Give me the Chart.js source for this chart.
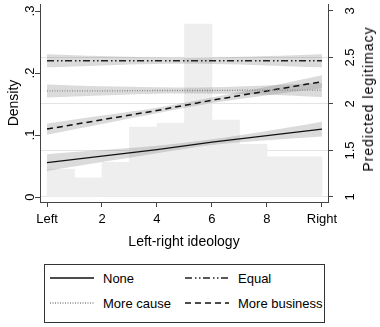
<!DOCTYPE html>
<html><head><meta charset="utf-8">
<script src="https://cdn.jsdelivr.net/npm/chart.js@4.4.0/dist/chart.umd.min.js"></script>
<style>
html,body{margin:0;padding:0;background:#fff;}
#wrap{position:relative;width:380px;height:327px;font-family:"Liberation Sans",Arial,sans-serif;color:#000;overflow:hidden;}
#cv{position:absolute;left:0;top:0;}
#rtitle{position:absolute;left:368px;top:99px;transform:translate(-50%,-50%) rotate(-90deg);white-space:nowrap;font-size:14px;line-height:16px;letter-spacing:1px;}
#legend{position:absolute;left:44px;top:264px;width:279px;height:57px;border:1px solid #333;}
.item{position:absolute;font-size:13px;line-height:15px;white-space:nowrap;transform:translateY(-50%);}
.smp{position:absolute;transform:translateY(-50%);}
</style></head><body>
<div id="wrap">
<canvas id="cv" width="380" height="258"></canvas>
<div id="rtitle">Predicted legitimacy</div>
<div id="legend"></div>
</div>
<script>
// ---- data ----
const seriesNames = ['None', 'Equal', 'More cause', 'More business'];
const xTicks = [0, 2, 4, 6, 8, 10];
const xTickLabels = ['Left', '2', '4', '6', '8', 'Right'];
const densityTicks = [0, 0.1, 0.2, 0.3];
const densityTickLabels = ['0', '.1', '.2', '.3'];
const legitTicks = [1, 1.5, 2, 2.5, 3];
const legitTickLabels = ['1', '1.5', '2', '2.5', '3'];

const binMid = [0.5, 1.5, 2.5, 3.5, 4.5, 5.5, 6.5, 7.5, 8.5, 9.5];
const density = [0.045, 0.031, 0.056, 0.113, 0.119, 0.279, 0.124, 0.085, 0.065, 0.065];

const fitX = [0, 2, 4, 6, 8, 10];
const noneFit = [1.37, 1.44, 1.51, 1.59, 1.66, 1.73];
const noneHi  = [1.46, 1.505, 1.55, 1.62, 1.71, 1.81];
const noneLo  = [1.28, 1.375, 1.47, 1.56, 1.61, 1.65];
const equalFit = [2.465, 2.465, 2.465, 2.465, 2.465, 2.465];
const equalHi  = [2.535, 2.515, 2.50, 2.50, 2.515, 2.535];
const equalLo  = [2.395, 2.415, 2.43, 2.43, 2.415, 2.395];
const causeFit = [2.14, 2.14, 2.145, 2.145, 2.15, 2.15];
const causeHi  = [2.21, 2.19, 2.18, 2.18, 2.20, 2.225];
const causeLo  = [2.07, 2.09, 2.11, 2.11, 2.10, 2.075];
const busFit = [1.73, 1.83, 1.93, 2.04, 2.14, 2.24];
const busHi  = [1.79, 1.875, 1.96, 2.07, 2.185, 2.31];
const busLo  = [1.67, 1.785, 1.90, 2.01, 2.095, 2.17];

// ---- styles ----
const FONT = '"Liberation Sans", Arial, sans-serif';
Chart.defaults.font.family = FONT;
Chart.defaults.color = '#000';
const AXIS = '#444';
const BAND = 'rgba(110,110,110,0.25)';
const lineStyles = [
  {color:'#111', width:1.3, dash:[]},
  {color:'#222', width:1.5, dash:[7,3,1.5,2.5,1.5,2.5]},
  {color:'#888', width:1.3, dash:[1,1.5]},
  {color:'#111', width:1.5, dash:[6,4]}
];
const fits = [noneFit, equalFit, causeFit, busFit];
const his = [noneHi, equalHi, causeHi, busHi];
const los = [noneLo, equalLo, causeLo, busLo];

const xy = (xs, ys) => xs.map((x, i) => ({x: x, y: ys[i]}));

const datasets = [];
fits.forEach((f, i) => {
  const st = lineStyles[i];
  datasets.push({type:'line', label: seriesNames[i], data: xy(fitX, f), yAxisID:'y2',
    borderColor: st.color, borderWidth: st.width, borderDash: st.dash, pointRadius:0, fill:false, order:0});
});
fits.forEach((f, i) => {
  datasets.push({type:'line', label: seriesNames[i] + ' CI low', data: xy(fitX, los[i]), yAxisID:'y2',
    borderWidth:0, borderColor:'rgba(0,0,0,0)', pointRadius:0, fill:false, tension:0.35, order:5});
  datasets.push({type:'line', label: seriesNames[i] + ' CI high', data: xy(fitX, his[i]), yAxisID:'y2',
    borderWidth:0, borderColor:'rgba(0,0,0,0)', pointRadius:0, fill:'-1', backgroundColor: BAND, tension:0.35, order:5});
});
datasets.push({type:'bar', label:'Density', data: xy(binMid, density), yAxisID:'y',
  backgroundColor:'#eeeeee', borderWidth:0, barPercentage:1, categoryPercentage:1, grouped:false, order:10});

const noPad = s => { s.paddingTop = 0; s.paddingBottom = 0; s.paddingLeft = 0; s.paddingRight = 0; };

new Chart(document.getElementById('cv'), {
  data: {datasets: datasets},
  options: {
    responsive:false, animation:false,
    layout:{padding:{top:4, left:0, right:0, bottom:0}},
    plugins:{legend:{display:false}, tooltip:{enabled:false}},
    scales:{
      x:{type:'linear', position:'bottom', min:-0.255, max:10.22, offset:false,
        afterBuildTicks: s => { s.ticks = xTicks.map(v => ({value:v})); },
        ticks:{callback: v => xTickLabels[xTicks.indexOf(v)], font:{size:13}, color:'#000', padding:5, maxRotation:0, autoSkip:false},
        grid:{drawOnChartArea:false, offset:false, tickLength:5, tickColor:AXIS, color:AXIS},
        border:{color:AXIS, width:1},
        title:{display:true, text:'Left-right ideology', font:{size:14}, color:'#000', padding:{top:0, bottom:7}},
        afterFit: s => { s.height = 56; noPad(s); }
      },
      y:{type:'linear', position:'left', min:-0.008, max:0.3113,
        afterBuildTicks: s => { s.ticks = densityTicks.map(v => ({value:v})); },
        ticks:{callback: v => densityTickLabels[densityTicks.indexOf(v)], font:{size:13}, color:'#000',
          minRotation:90, maxRotation:90, crossAlign:'center', padding:-1, autoSkip:false},
        grid:{drawOnChartArea:false, tickLength:5, tickColor:AXIS, color:AXIS},
        border:{color:AXIS, width:1},
        title:{display:true, text:'Density', font:{size:14}, color:'#000', padding:{top:6, bottom:0}},
        afterFit: s => { s.width = 40; noPad(s); }
      },
      y2:{type:'linear', position:'right', min:0.946, max:3.075,
        afterBuildTicks: s => { s.ticks = legitTicks.map(v => ({value:v})); },
        ticks:{callback: v => legitTickLabels[legitTicks.indexOf(v)], font:{size:13}, color:'#000',
          minRotation:90, maxRotation:90, crossAlign:'center', padding:8, autoSkip:false},
        grid:{drawOnChartArea:true, drawTicks:true, tickLength:5, tickColor:AXIS,
          color: c => (c.tick && c.tick.value < 2.9) ? '#e4e4e4' : 'rgba(0,0,0,0)', lineWidth:1},
        border:{color:AXIS, width:1},
        afterFit: s => { s.width = 52; noPad(s); }
      }
    }
  }
});

// ---- legend (HTML text) ----
const legendPos = [
  {col:0, row:0}, {col:1, row:0}, {col:0, row:1}, {col:1, row:1}
];
const colX = [{s:5, t:58}, {s:140, t:193}];
const rowY = [13, 38];
const lg = document.getElementById('legend');
seriesNames.forEach((name, i) => {
  const p = legendPos[i], st = lineStyles[i];
  const svgNS = 'http://www.w3.org/2000/svg';
  const svg = document.createElementNS(svgNS, 'svg');
  svg.setAttribute('width', '44'); svg.setAttribute('height', '4');
  svg.setAttribute('class', 'smp');
  svg.style.left = colX[p.col].s + 'px'; svg.style.top = rowY[p.row] + 'px';
  const ln = document.createElementNS(svgNS, 'line');
  ln.setAttribute('x1', '0'); ln.setAttribute('x2', '44'); ln.setAttribute('y1', '2'); ln.setAttribute('y2', '2');
  ln.setAttribute('stroke', st.color); ln.setAttribute('stroke-width', st.width);
  if (st.dash.length) ln.setAttribute('stroke-dasharray', st.dash.join(' '));
  svg.appendChild(ln);
  lg.appendChild(svg);
  const d = document.createElement('div');
  d.className = 'item'; d.textContent = name;
  d.style.left = colX[p.col].t + 'px'; d.style.top = rowY[p.row] + 'px';
  lg.appendChild(d);
});
</script>
</body></html>
